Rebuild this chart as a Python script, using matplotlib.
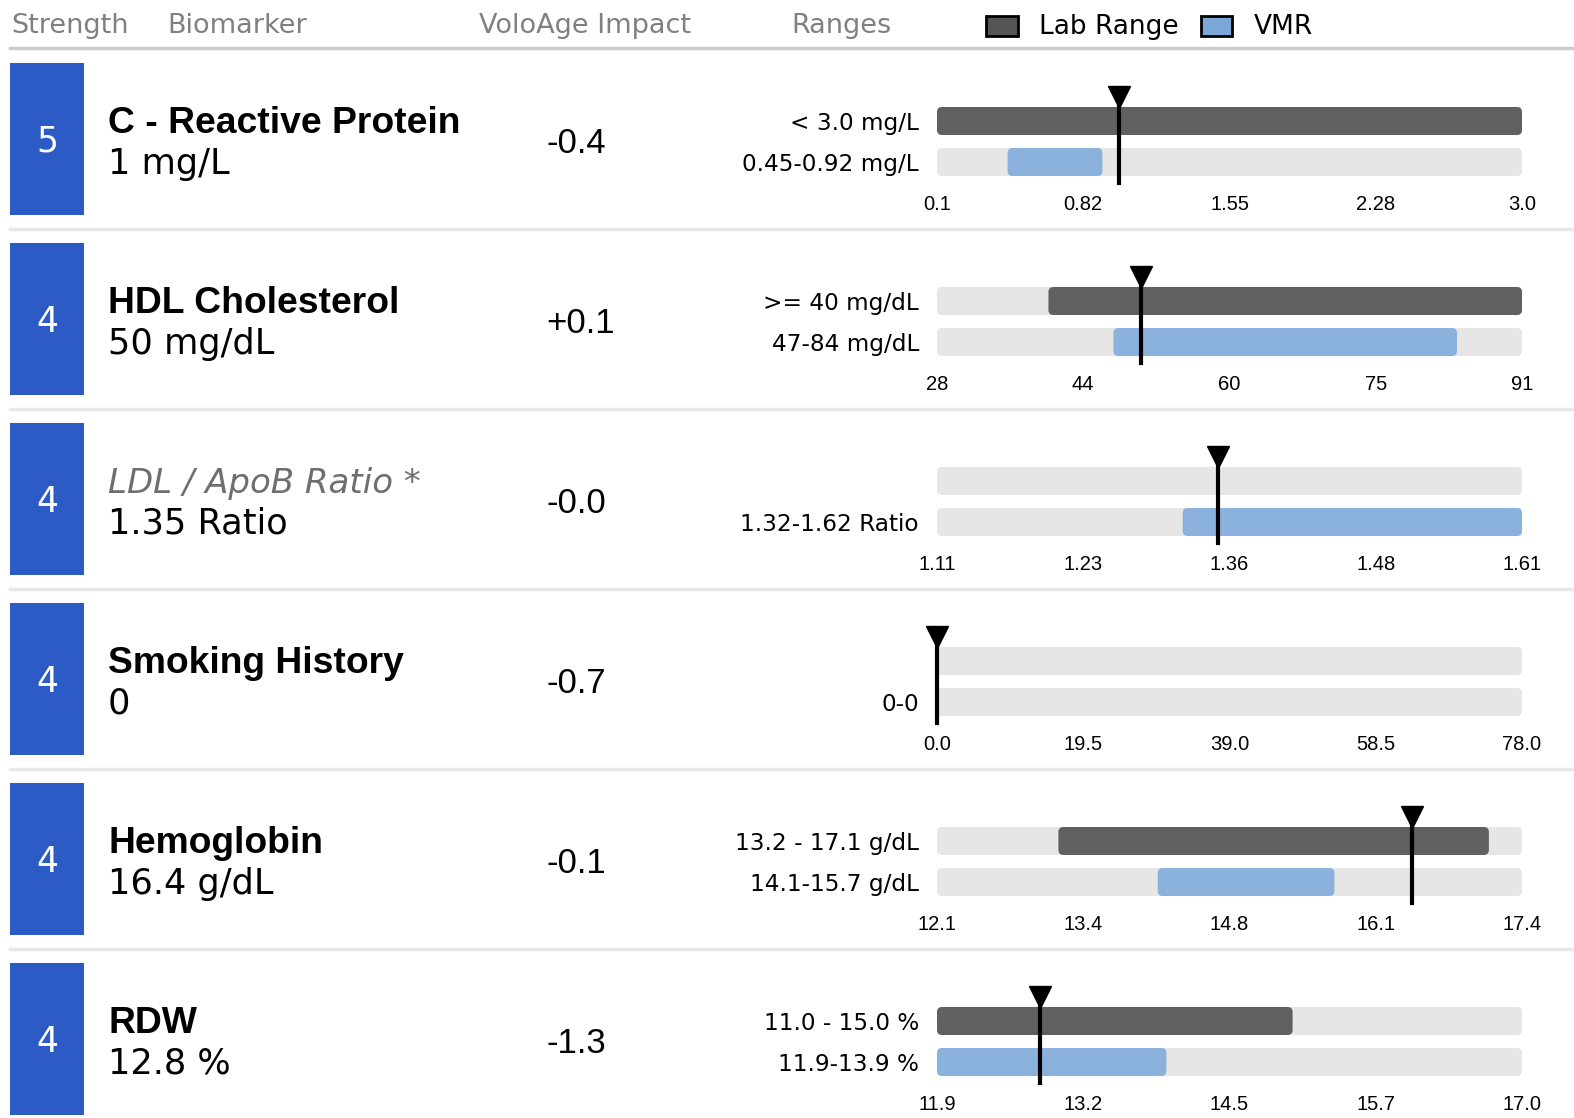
import numpy as np
import matplotlib.pyplot as plt
from matplotlib.patches import Rectangle, FancyBboxPatch

# biomarker table
strength = [5, 4, 4, 4, 4, 4]
names = ['C - Reactive Protein', 'HDL Cholesterol', 'LDL / ApoB Ratio *',
         'Smoking History', 'Hemoglobin', 'RDW']
value_text = ['1 mg/L', '50 mg/dL', '1.35 Ratio', '0', '16.4 g/dL', '12.8 %']
values = [1.0, 50, 1.35, 0, 16.4, 12.8]
impact = ['-0.4', '+0.1', '-0.0', '-0.7', '-0.1', '-1.3']

lab_label = ['< 3.0 mg/L', '>= 40 mg/dL', '', '', '13.2 - 17.1 g/dL', '11.0 - 15.0 %']
lab_lo = [0.1, 40, None, None, 13.2, 11.0]
lab_hi = [3.0, 91, None, None, 17.1, 15.0]
vmr_label = ['0.45-0.92 mg/L', '47-84 mg/dL', '1.32-1.62 Ratio', '0-0',
             '14.1-15.7 g/dL', '11.9-13.9 %']
vmr_lo = [0.45, 47, 1.32, 0, 14.1, 11.9]
vmr_hi = [0.92, 84, 1.62, 0, 15.7, 13.9]

axis_min = [0.1, 28, 1.11, 0.0, 12.1, 11.9]
axis_max = [3.0, 91, 1.61, 78.0, 17.4, 17.0]
tick_labels = [['0.1', '0.82', '1.55', '2.28', '3.0'],
               ['28', '44', '60', '75', '91'],
               ['1.11', '1.23', '1.36', '1.48', '1.61'],
               ['0.0', '19.5', '39.0', '58.5', '78.0'],
               ['12.1', '13.4', '14.8', '16.1', '17.4'],
               ['11.9', '13.2', '14.5', '15.7', '17.0']]

W, H = 1574, 1118
DARK = '#606060'
BLUE = '#8ab2dd'
BG = '#e6e6e6'
BOX = '#2d5bc6'
ARIAL = 'Liberation Sans'

fig = plt.figure(figsize=(W / 100, H / 100), dpi=100)


def fx(x):
    return x / W


def fy(y):
    return 1 - y / H


def rbar(ax, y, lo, hi, color, xlo, xhi):
    # rounded bar, radius about 5 px
    lo, hi = max(lo, xlo), min(hi, xhi)
    if hi <= lo:
        return
    xpp = (xhi - xlo) / 585
    ypp = 1.683 / 69
    h = 0.683
    p = FancyBboxPatch((lo, y - h / 2), hi - lo, h,
                       boxstyle='round,pad=0,rounding_size=%f' % (5 * xpp),
                       mutation_aspect=ypp / xpp, facecolor=color, lw=0)
    ax.add_patch(p)


# header
hdr = dict(fontsize=19.5, color='#808080', va='baseline')
fig.text(fx(11), fy(33), 'Strength', **hdr)
fig.text(fx(167), fy(33), 'Biomarker', **hdr)
fig.text(fx(479), fy(33), 'VoloAge Impact', **hdr)
fig.text(fx(791), fy(33), 'Ranges', **hdr)
fig.patches.append(Rectangle((fx(986), fy(36)), fx(32), 20 / H, facecolor='#555555',
                             edgecolor='black', lw=2, transform=fig.transFigure))
fig.text(fx(1039), fy(34), 'Lab Range', fontsize=19, va='baseline')
fig.patches.append(Rectangle((fx(1201), fy(36)), fx(31), 20 / H, facecolor='#7aa6da',
                             edgecolor='black', lw=2, transform=fig.transFigure))
fig.text(fx(1254), fy(34), 'VMR', fontsize=19, va='baseline')
fig.add_artist(plt.Line2D([fx(10), 1], [fy(48), fy(48)], color='#cccccc', lw=2.5))

for i in range(6):
    top = 63 + 180 * i

    # strength box
    fig.patches.append(Rectangle((fx(10), fy(top + 152)), fx(74), 152 / H,
                                 facecolor=BOX, transform=fig.transFigure))
    fig.text(fx(47), fy(top + 89), str(strength[i]), color='white', fontsize=25,
             ha='center', va='baseline')

    # biomarker name + value
    if i == 2:
        fig.text(fx(108), fy(top + 70), names[i], fontsize=24.5, style='italic',
                 color='#6e6e6e', va='baseline')
    else:
        fig.text(fx(108), fy(top + 70), names[i], fontsize=26.8, weight='bold',
                 family=ARIAL, va='baseline')
    fig.text(fx(108), fy(top + 111), value_text[i], fontsize=25.3, va='baseline')
    fig.text(fx(546), fy(top + 90), impact[i], fontsize=25, family=ARIAL,
             va='baseline')

    # separator
    if i < 5:
        fig.add_artist(plt.Line2D([fx(10), 1], [fy(top + 166), fy(top + 166)],
                                  color='#e8e8e8', lw=2.5))

    # range bars
    ax = fig.add_axes([fx(937), fy(top + 113), fx(585), 69 / H])
    lo, hi = axis_min[i], axis_max[i]
    rbar(ax, 1, lo, hi, BG, lo, hi)
    rbar(ax, 0, lo, hi, BG, lo, hi)
    if lab_lo[i] is not None:
        rbar(ax, 1, lab_lo[i], lab_hi[i], DARK, lo, hi)
    rbar(ax, 0, vmr_lo[i], vmr_hi[i], BLUE, lo, hi)
    ax.set_xlim(lo, hi)
    ax.set_ylim(-0.3415, 1.3415)
    ax.set_xticks(np.linspace(lo, hi, 5))
    ax.set_xticklabels(tick_labels[i], fontsize=14.5, family=ARIAL)
    ax.set_yticks([0, 1])
    ax.set_yticklabels([vmr_label[i], lab_label[i]], fontsize=16.7)
    ax.tick_params(length=0, axis='x', pad=13.5)
    ax.tick_params(length=0, axis='y', pad=13)
    for s in ax.spines.values():
        s.set_visible(False)

    # current value marker
    v = values[i]
    ax.plot([v, v], [-0.51, 1.6], color='black', lw=3, clip_on=False)
    ax.plot(v, 1.59, marker='v', ms=16, color='black', clip_on=False)

fig.savefig('out.png', dpi=100)
